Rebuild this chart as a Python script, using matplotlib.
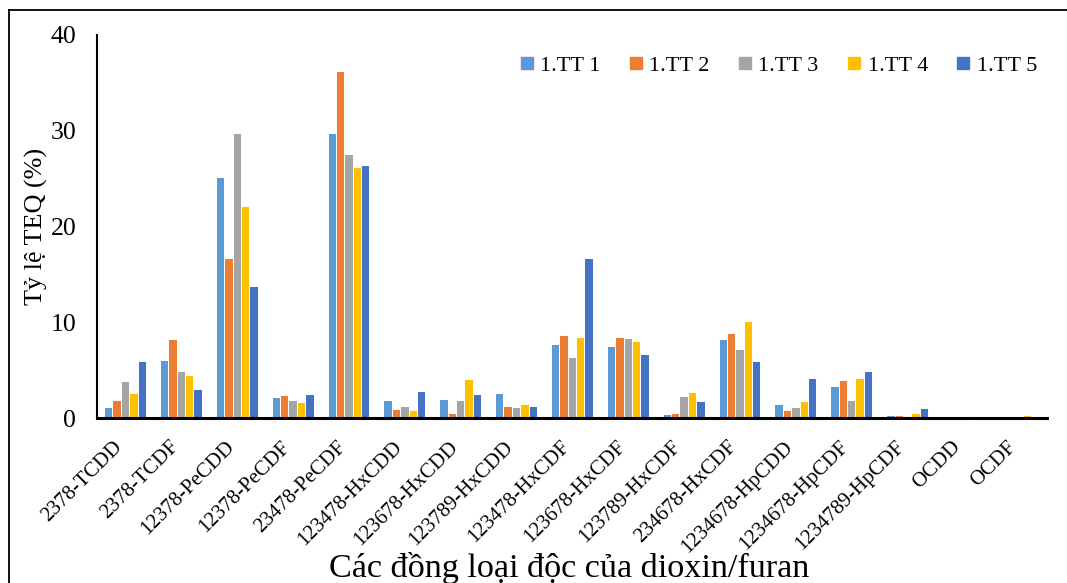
#!/usr/bin/env python3
"""
TEQ share of each dioxin/furan congener, grouped bars for 5 samples
"""

import numpy as np
import matplotlib
matplotlib.use('Agg')
import matplotlib.pyplot as plt
from matplotlib.lines import Line2D
from matplotlib.transforms import ScaledTranslation

plt.rcParams['font.family'] = ['Liberation Serif', 'DejaVu Serif']

# Data (% TEQ)
congeners = ['2378-TCDD', '2378-TCDF', '12378-PeCDD', '12378-PeCDF', '23478-PeCDF',
             '123478-HxCDD', '123678-HxCDD', '123789-HxCDD', '123478-HxCDF',
             '123678-HxCDF', '123789-HxCDF', '234678-HxCDF', '1234678-HpCDD',
             '1234678-HpCDF', '1234789-HpCDF', 'OCDD', 'OCDF']
series_names = ['1.TT 1', '1.TT 2', '1.TT 3', '1.TT 4', '1.TT 5']

tt1 = [1.1, 6.1, 25.2, 2.2, 29.8, 1.85, 1.95, 2.6, 7.7, 7.5, 0.42, 8.2, 1.5, 3.3, 0.35, 0.0, 0.0]
tt2 = [1.85, 8.2, 16.7, 2.45, 36.2, 0.98, 0.5, 1.25, 8.7, 8.5, 0.49, 8.85, 0.8, 4.0, 0.28, 0.0, 0.0]
tt3 = [3.85, 4.95, 29.8, 1.9, 27.6, 1.3, 1.9, 1.15, 6.4, 8.4, 2.25, 7.2, 1.1, 1.85, 0.24, 0.0, 0.0]
tt4 = [2.6, 4.5, 22.1, 1.7, 26.2, 0.8, 4.05, 1.5, 8.5, 8.05, 2.7, 10.1, 1.8, 4.15, 0.56, 0.24, 0.31]
tt5 = [5.95, 3.05, 13.8, 2.5, 26.4, 2.85, 2.5, 1.3, 16.7, 6.7, 1.8, 6.0, 4.2, 4.9, 1.05, 0.14, 0.0]

colors = ['#5B9BD5', '#ED7D31', '#A5A5A5', '#FFC000', '#4472C4']


def main():
    fig = plt.figure(figsize=(10.67, 5.83), dpi=100)
    ax = fig.add_axes([0.091, 0.283, 0.890, 0.657])

    x = np.arange(len(congeners))
    width = 0.15
    all_series = [tt1, tt2, tt3, tt4, tt5]
    for i, (vals, name) in enumerate(zip(all_series, series_names)):
        ax.bar(x + (i - 2) * width, vals, width, color=colors[i], label=name,
               edgecolor='white', linewidth=0.7)

    ax.set_xlim(-0.5, len(congeners) - 0.5)
    ax.set_ylim(0, 40)
    ax.set_yticks([0, 10, 20, 30, 40])
    ax.tick_params(axis='y', length=0, labelsize=18.5, pad=15)
    ax.tick_params(axis='x', length=0, labelsize=15, pad=14)
    ax.set_xticks(x)
    ax.set_xticklabels(congeners, rotation=45, ha='right', rotation_mode='anchor')
    shift = ScaledTranslation(-12 / 100, 0, fig.dpi_scale_trans)
    for lbl in ax.get_xticklabels():
        lbl.set_transform(lbl.get_transform() + shift)

    for side in ['top', 'right']:
        ax.spines[side].set_visible(False)
    ax.spines['left'].set_linewidth(1.5)
    ax.spines['bottom'].set_linewidth(2.2)

    ax.set_ylabel('Tỷ lệ TEQ (%)', fontsize=18.8, labelpad=2)
    fig.text(0.533, 0.026, 'Các đồng loại độc của dioxin/furan', fontsize=24.6,
             ha='center', va='center')

    handles = [Line2D([], [], marker='s', linestyle='none', markersize=9,
                      color=c) for c in colors]
    ax.legend(handles, series_names, loc='upper right', ncol=5, frameon=False,
              fontsize=16, bbox_to_anchor=(1.011, 1.0), handletextpad=0.1,
              columnspacing=1.1, handlelength=1.0)

    # outer frame (left and top only visible in the original)
    fig.add_artist(Line2D([9 / 1067, 9 / 1067], [0, 1 - 10 / 583],
                          color='black', linewidth=1.3, transform=fig.transFigure))
    fig.add_artist(Line2D([9 / 1067, 1], [1 - 10 / 583, 1 - 10 / 583],
                          color='black', linewidth=1.3, transform=fig.transFigure))

    fig.savefig('out.png', dpi=100)
    plt.close(fig)


if __name__ == '__main__':
    main()
